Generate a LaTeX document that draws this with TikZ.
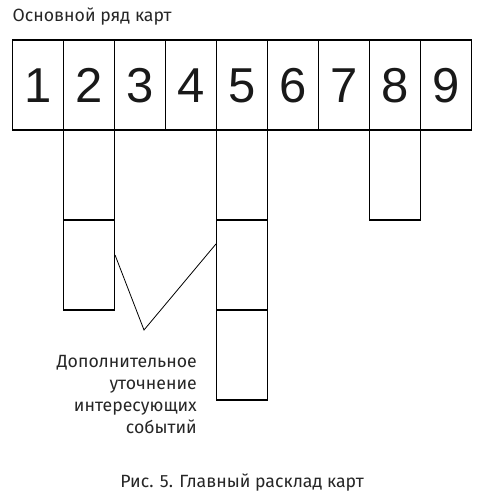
\documentclass[tikz,border=0pt]{standalone}
\usepackage{fontspec}
\setmainfont{Fira Sans}
\newfontfamily\digitfont{Liberation Sans}
\usepackage{tikz}
\usetikzlibrary{positioning, calc}

\begin{document}
\begin{tikzpicture}[
  x=1pt, y=-1pt,
  card/.style={draw, line width=1.1pt, minimum width=51pt, minimum height=90pt, inner sep=0pt, text height=35pt, text depth=0pt, text=black!90, font=\digitfont\fontsize{49}{49}\selectfont},
  caption/.style={inner sep=0pt, text=black!85, font=\fontsize{17.7}{22}\selectfont}
]
  \useasboundingbox (0,0) rectangle (484,497);

  % main row
  \node[caption, anchor=base west] (title) at (12.5, 22) {Основной ряд карт};
  \node[card] (k1) at (38, 85) {1};
  \node[card] (k2) at (89, 85) {2};
  \node[card] (k3) at (140, 85) {3};
  \node[card] (k4) at (191, 85) {4};
  \node[card] (k5) at (242, 85) {5};
  \node[card] (k6) at (293, 85) {6};
  \node[card] (k7) at (344, 85) {7};
  \node[card] (k8) at (395, 85) {8};
  \node[card] (k9) at (446, 85) {9};

  % cards laid under the row
  \node[card] (k2a) at (89, 175) {};
  \node[card] (k2b) at (89, 265) {};
  \node[card] (k5a) at (242, 175) {};
  \node[card] (k5b) at (242, 265) {};
  \node[card] (k5c) at (242, 355) {};
  \node[card] (k8a) at (395, 175) {};

  % pointer to the note
  \coordinate (tip) at (144, 330);
  \draw[line width=0.8pt] ([yshift=10pt]k2b.east) -- (tip) -- ([yshift=21pt]k5b.west);

  \node[caption, anchor=north east, align=right] (note) at (197, 355) {
    Дополнительное\\
    уточнение\\
    интересующих\\
    событий
  };

  \node[caption, anchor=base] (fig) at (242, 487) {Рис. 5. Главный расклад карт};
\end{tikzpicture}
\end{document}
